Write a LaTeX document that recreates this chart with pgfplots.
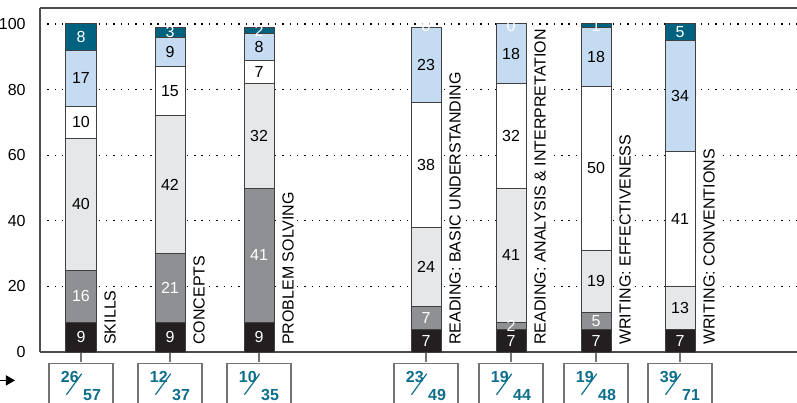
\documentclass[border=0pt]{standalone}
\usepackage{pgfplots}
\pgfplotsset{compat=1.18}
\usepackage{fontspec}
\setmainfont{Liberation Sans}
\usetikzlibrary{arrows.meta}
\definecolor{segblack}{RGB}{35,31,32}
\definecolor{seggray}{RGB}{142,144,147}
\definecolor{seglight}{RGB}{230,231,232}
\definecolor{segblue}{RGB}{197,219,241}
\definecolor{segteal}{RGB}{0,98,127}
\definecolor{fractxt}{RGB}{14,111,140}
\newcommand\ff{\fontsize{8}{9.6}\selectfont}
\DeclareRobustCommand\frc[2]{\textbf{\raisebox{9pt}{#1}\kern-6.4pt\raisebox{2.5pt}{\rotatebox{54}{\rule{13pt}{0.6pt}}}\kern0.5pt#2}}
\pgfplotsset{
  base/.style={x=0.5pt, y=1.64pt, xmin=40, xmax=797, ymin=0, ymax=104.9,
    at={(0,0)}, anchor=south west, enlargelimits=false},
}
\begin{document}
\begin{tikzpicture}
\path[use as bounding box] (-20pt,-25pt) rectangle (378.5pt,176pt);
\begin{axis}[base,
  ybar stacked, bar width=30,
  axis lines*=left,
  axis line style={draw=black!70, line width=0.8pt},
  xtick={81,170,259,426,511,596,680}, xticklabels={},
  xtick style={draw=black!55, line width=0.6pt},
  tick align=outside, major tick length=5pt,
  ytick={0,20,...,100}, ytick style={draw=none},
  ymajorgrids,
  major grid style={black, line width=0.6pt, dash pattern=on 0.7pt off 2.97pt},
  tick label style={font=\ff},
  yticklabel style={inner sep=1pt, xshift=-1pt},
  /pgf/number format/assume math mode=true,
  every axis plot/.append style={draw=black!75, line width=0.5pt},
]
% bottom to top: SKILLS, CONCEPTS, PROBLEM SOLVING, READ BASIC, READ ANALYSIS, WRIT EFF, WRIT CONV
\addplot[fill=segblack] coordinates {(81,9) (170,9) (259,9) (426,7) (511,7) (596,7) (680,7)};
\addplot[fill=seggray] coordinates {(81,16) (170,21) (259,41) (426,7) (511,2) (596,5) (680,0)};
\addplot[fill=seglight] coordinates {(81,40) (170,42) (259,32) (426,24) (511,41) (596,19) (680,13)};
\addplot[fill=white] coordinates {(81,10) (170,15) (259,7) (426,38) (511,32) (596,50) (680,41)};
\addplot[fill=segblue] coordinates {(81,17) (170,9) (259,8) (426,23) (511,18) (596,18) (680,34)};
\addplot[fill=segteal] coordinates {(81,8) (170,3) (259,2) (426,0) (511,0) (596,1) (680,5)};
\draw[black!70, line width=0.8pt] (rel axis cs:0,1) -- (rel axis cs:1,1);
\end{axis}
\begin{axis}[base, hide axis, clip=false]
% segment values, white text
\addplot[draw=none, mark=none, nodes near coords, point meta=explicit symbolic,
  nodes near coords align={anchor=center},
  nodes near coords style={font=\ff, text=white, anchor=center, inner sep=0pt}]
  coordinates {
  (81,4.5)[9] (81,17)[16] (81,96)[8]
  (170,4.5)[9] (170,19.5)[21] (170,97.5)[3]
  (259,4.5)[9] (259,29.5)[41] (259,98)[2]
  (426,3.5)[7] (426,10.5)[7] (426,99.3)[0]
  (511,3.5)[7] (511,8)[2] (511,99.5)[0]
  (596,3.5)[7] (596,9.5)[5] (596,99.5)[1]
  (680,3.5)[7] (680,97.5)[5]
  };
% segment values, black text
\addplot[draw=none, mark=none, nodes near coords, point meta=explicit symbolic,
  nodes near coords align={anchor=center},
  nodes near coords style={font=\ff, text=black, anchor=center, inner sep=0pt}]
  coordinates {
  (81,45)[40] (81,70)[10] (81,83.5)[17]
  (170,51)[42] (170,79.5)[15] (170,91.5)[9]
  (259,66)[32] (259,85.5)[7] (259,93)[8]
  (426,26)[24] (426,57)[38] (426,87.5)[23]
  (511,29.5)[41] (511,66)[32] (511,91)[18]
  (596,21.5)[19] (596,56)[50] (596,90)[18]
  (680,13.5)[13] (680,40.5)[41] (680,78)[34]
  };
% category names
\addplot[draw=none, mark=none, nodes near coords, point meta=explicit symbolic,
  nodes near coords align={anchor=north west},
  nodes near coords style={font=\ff, text=black, fill=white, rotate=90, anchor=north west, inner sep=1pt}]
  coordinates {
  (102,1.5)[SKILLS] (191,1.5)[CONCEPTS] (280,1.5)[PROBLEM SOLVING]
  (447,1.5)[READING: BASIC UNDERSTANDING]
  (532,1.5)[READING: ANALYSIS \& INTERPRETATION]
  (617,1.5)[WRITING: EFFECTIVENESS]
  (701,1.5)[WRITING: CONVENTIONS]
  };
% fraction boxes
\addplot[draw=none, mark=none, nodes near coords, point meta=explicit symbolic,
  nodes near coords align={anchor=north},
  nodes near coords style={font=\ff, text=fractxt, draw=black!55, line width=0.6pt, fill=white,
    minimum width=32pt, minimum height=22.3pt, inner sep=0pt, anchor=north}]
  coordinates {
  (81,-3.26)[\frc{26}{57}] (170,-3.26)[\frc{12}{37}] (259,-3.26)[\frc{10}{35}]
  (426,-3.26)[\frc{23}{49}] (511,-3.26)[\frc{19}{44}] (596,-3.26)[\frc{19}{48}]
  (680,-3.26)[\frc{39}{71}]
  };
\end{axis}
\draw[-{Triangle[length=4.5pt,width=5pt]}, line width=0.7pt] (-20pt,-14.2pt) -- (-12.5pt,-14.2pt);
\end{tikzpicture}
\end{document}
